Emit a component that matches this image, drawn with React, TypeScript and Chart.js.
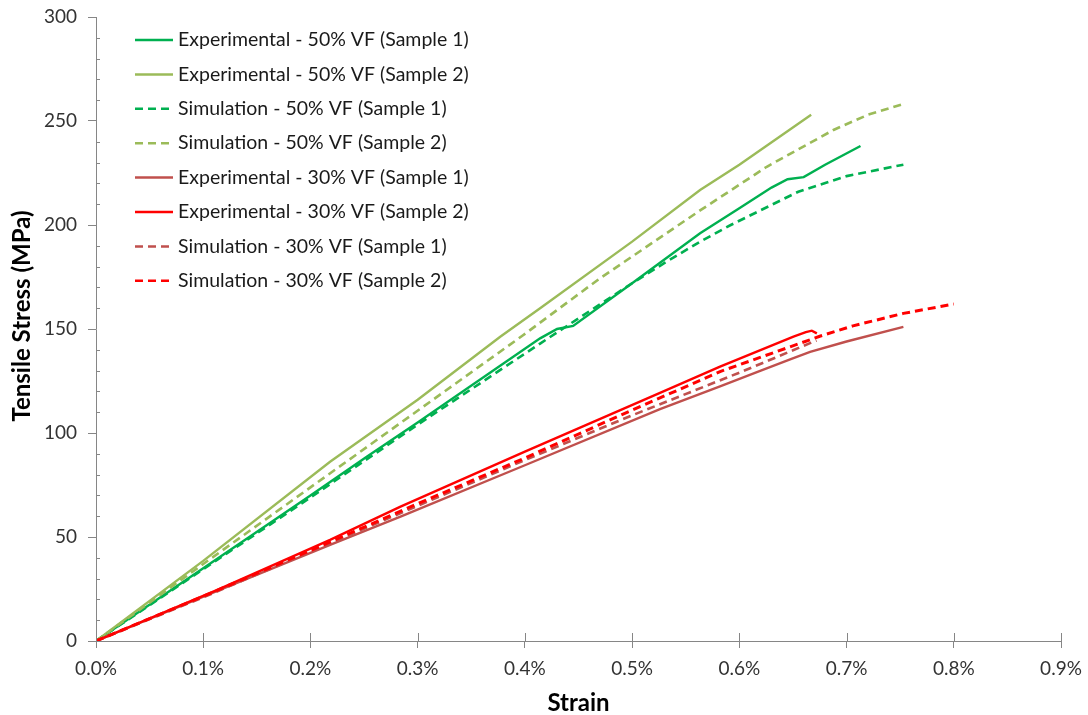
import React, { useEffect, useRef } from 'react';
import { Chart, registerables } from 'chart.js';

Chart.register(...registerables);

// ---- Data (strain in %, stress in MPa) ----
const seriesLabels = [
  'Experimental - 50% VF (Sample 1)',
  'Experimental - 50% VF (Sample 2)',
  'Simulation - 50% VF (Sample 1)',
  'Simulation - 50% VF (Sample 2)',
  'Experimental - 30% VF (Sample 1)',
  'Experimental - 30% VF (Sample 2)',
  'Simulation - 30% VF (Sample 1)',
  'Simulation - 30% VF (Sample 2)',
];

const exp50s1Strain = [0, 0.1, 0.2, 0.2525, 0.3, 0.4142, 0.43, 0.445, 0.5, 0.5634, 0.6, 0.63, 0.645, 0.66, 0.68, 0.713];
const exp50s1Stress = [0, 35, 70, 88.6, 105, 145.5, 150, 151.5, 172, 196, 208, 218, 222, 223, 229, 238];

const exp50s2Strain = [0, 0.1, 0.2183, 0.3, 0.377, 0.4142, 0.5, 0.5634, 0.6, 0.667];
const exp50s2Stress = [0, 38.5, 86.2, 116, 146.3, 160, 192, 216.8, 229, 253];

const sim50s1Strain = [0, 0.1, 0.2, 0.3, 0.4142, 0.5, 0.531, 0.5634, 0.592, 0.655, 0.7, 0.753];
const sim50s1Stress = [0, 34.5, 69, 104, 143, 172, 182, 192, 200, 216, 223.5, 229];

const sim50s2Strain = [0, 0.1, 0.24, 0.3986, 0.469, 0.5634, 0.6256, 0.6878, 0.72, 0.753];
const sim50s2Stress = [0, 37, 88.6, 147.1, 174, 207, 228, 245.7, 253, 258.2];

const exp30s1Strain = [0, 0.1126, 0.2183, 0.284, 0.4, 0.526, 0.582, 0.62, 0.648, 0.666, 0.7, 0.753];
const exp30s1Stress = [0, 24, 46.2, 59.8, 84.5, 111.5, 122.4, 130, 135.5, 139, 144, 151];

const exp30s2Strain = [0, 0.1126, 0.2183, 0.284, 0.4, 0.489, 0.526, 0.582, 0.6505, 0.662, 0.6676, 0.6723];
const exp30s2Stress = [0, 24.5, 48.6, 64.6, 91, 111, 119.3, 131.9, 146.3, 148.5, 149.2, 147.9];

const sim30s1Strain = [0, 0.1, 0.2, 0.3, 0.4, 0.5, 0.6, 0.672];
const sim30s1Stress = [0, 21, 43, 65, 87, 108.5, 129, 144.5];

const sim30s2Strain = [0, 0.1, 0.2, 0.3, 0.4, 0.5, 0.582, 0.675, 0.706, 0.753, 0.8];
const sim30s2Stress = [0, 21.5, 43.5, 66, 88, 111, 129.5, 146.5, 151.5, 157.5, 162];

const xTickValues = [0, 0.1, 0.2, 0.3, 0.4, 0.5, 0.6, 0.7, 0.8, 0.9];
const yTickValues = [0, 50, 100, 150, 200, 250, 300];

const seriesColors = ['#00B050', '#9BBB59', '#00B050', '#9BBB59', '#C0504D', '#FF0000', '#C0504D', '#FF0000'];
const seriesDashed = [false, false, true, true, false, false, true, true];

const xTitle = 'Strain';
const yTitle = 'Tensile Stress (MPa)';

const FONT = 'Lato, "Open Sans", sans-serif';
const AXIS_COLOR = '#868686';

function pairs(xs: number[], ys: number[]) {
  return xs.map((x, i) => ({ x, y: ys[i] }));
}

const allSeries = [
  pairs(exp50s1Strain, exp50s1Stress),
  pairs(exp50s2Strain, exp50s2Stress),
  pairs(sim50s1Strain, sim50s1Stress),
  pairs(sim50s2Strain, sim50s2Stress),
  pairs(exp30s1Strain, exp30s1Stress),
  pairs(exp30s2Strain, exp30s2Stress),
  pairs(sim30s1Strain, sim30s1Stress),
  pairs(sim30s2Strain, sim30s2Stress),
];

const extrasPlugin = {
  id: 'extras',
  afterDraw(chart: any) {
    const ctx = chart.ctx;
    const xs = chart.scales.x;
    const ys = chart.scales.y;
    const area = chart.chartArea;
    ctx.save();
    ctx.strokeStyle = AXIS_COLOR;
    ctx.lineWidth = 1;
    // minor y ticks (inside)
    for (let v = 10; v < 300; v += 10) {
      if (v % 50 === 0) continue;
      const py = Math.round(ys.getPixelForValue(v)) + 0.5;
      ctx.beginPath();
      ctx.moveTo(area.left, py);
      ctx.lineTo(area.left + 4, py);
      ctx.stroke();
    }
    // x major ticks crossing above the axis
    xTickValues.forEach((v) => {
      const px = Math.round(xs.getPixelForValue(v)) + 0.5;
      ctx.beginPath();
      ctx.moveTo(px, area.bottom - 8);
      ctx.lineTo(px, area.bottom);
      ctx.stroke();
    });
    // y axis title
    ctx.save();
    ctx.translate(22, 316);
    ctx.rotate(-Math.PI / 2);
    ctx.font = 'bold 24px ' + FONT;
    ctx.fillStyle = '#000';
    ctx.textAlign = 'center';
    ctx.textBaseline = 'middle';
    ctx.fillText(yTitle, 0, 0);
    ctx.restore();
    ctx.restore();
  },
  afterDatasetsDraw(chart: any) {
    const ctx = chart.ctx;
    const area = chart.chartArea;
    ctx.save();
    ctx.font = '19.5px ' + FONT;
    ctx.textBaseline = 'middle';
    ctx.fillStyle = '#1a1a1a';
    chart.data.datasets.forEach((ds: any, i: number) => {
      const y = area.top + 23 + i * 34.4;
      ctx.strokeStyle = ds.borderColor;
      ctx.lineWidth = 2.5;
      ctx.setLineDash(ds.borderDash || []);
      ctx.beginPath();
      ctx.moveTo(area.left + 39, y);
      ctx.lineTo(area.left + 77, y);
      ctx.stroke();
      ctx.setLineDash([]);
      ctx.fillText(ds.label, area.left + 82, y);
    });
    ctx.restore();
  },
};

export default function App() {
  const canvasRef = useRef<HTMLCanvasElement | null>(null);

  useEffect(() => {
    if (!canvasRef.current) return;
    const datasets = allSeries.map((data, i) => ({
      label: seriesLabels[i],
      data,
      showLine: true,
      borderColor: seriesColors[i],
      backgroundColor: seriesColors[i],
      borderWidth: seriesDashed[i] ? (i === 7 ? 3 : 2.6) : 2.4,
      borderDash: seriesDashed[i] ? [8, 5] : [],
      pointRadius: 0,
      tension: 0,
      fill: false,
      order: 7 - i,
    }));

    const chart = new Chart(canvasRef.current, {
      type: 'scatter',
      data: { datasets },
      options: {
        animation: false,
        responsive: false,
        layout: { padding: { left: 0, right: 27, top: 17, bottom: 0 } },
        plugins: {
          legend: { display: false },
          tooltip: { enabled: false },
        },
        scales: {
          x: {
            type: 'linear',
            min: 0,
            max: 0.9,
            afterFit: (s: any) => { s.height = 74; s.paddingLeft = 0; s.paddingRight = 0; },
            afterBuildTicks: (s: any) => { s.ticks = xTickValues.map((v) => ({ value: v })); },
            ticks: {
              callback: (v: any) => Number(v).toFixed(1) + '%',
              color: '#333333',
              font: { family: FONT, size: 19 },
              padding: 9,
              maxRotation: 0,
            },
            grid: { display: true, drawOnChartArea: false, drawTicks: true, tickLength: 7, color: AXIS_COLOR },
            border: { display: true, color: AXIS_COLOR, width: 1 },
            title: {
              display: true,
              text: xTitle,
              color: '#000',
              font: { family: FONT, size: 24, weight: 'bold', lineHeight: 1 },
              padding: { top: 0, bottom: 0 },
            },
          },
          y: {
            type: 'linear',
            min: 0,
            max: 300,
            afterFit: (s: any) => { s.width = 96; s.paddingTop = 0; s.paddingBottom = 0; },
            afterBuildTicks: (s: any) => { s.ticks = yTickValues.map((v) => ({ value: v })); },
            ticks: {
              color: '#333333',
              font: { family: FONT, size: 19 },
              padding: 11,
            },
            grid: { display: true, drawOnChartArea: false, drawTicks: true, tickLength: 8, color: AXIS_COLOR },
            border: { display: true, color: AXIS_COLOR, width: 1 },
            title: { display: false },
          },
        },
      },
      plugins: [extrasPlugin],
    } as any);

    return () => chart.destroy();
  }, []);

  return (
    <div style={{ position: 'absolute', left: 0, top: 0, width: 1088, height: 715, background: '#fff' }}>
      <canvas ref={canvasRef} width={1088} height={715} style={{ display: 'block' }} />
    </div>
  );
}
